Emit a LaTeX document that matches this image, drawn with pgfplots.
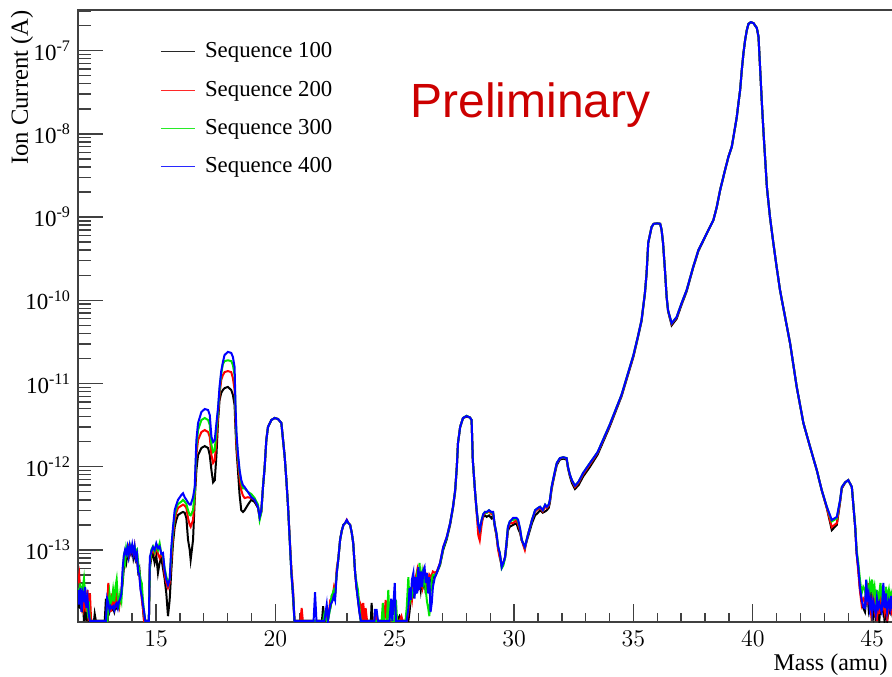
\documentclass[border=0pt]{standalone}
\usepackage{fontspec}
\setmainfont{Liberation Serif}
\newfontfamily\prelimfont{Liberation Sans}
\usepackage{pgfplots}
\usepackage{pgfplotstable}
\pgfplotsset{compat=1.18}
\definecolor{prelimred}{RGB}{204,0,0}
\definecolor{rootgreen}{RGB}{0,230,0}
\definecolor{rootred}{RGB}{255,0,0}
\definecolor{rootblue}{RGB}{0,0,255}
\definecolor{legred}{RGB}{255,40,40}
\definecolor{leggreen}{RGB}{40,235,40}
\definecolor{legblue}{RGB}{40,40,255}
\definecolor{legblack}{RGB}{40,40,40}

% mass (amu), ion current (A) for sequences 100, 200, 300, 400
\pgfplotstableread{
m k r g b
11.73 3.0e-14 4.0e-14 3.5e-14 3.3e-14
11.78 2.0e-14 5.0e-14 2.5e-14 2.2e-14
11.83 3.5e-14 3.0e-14 4.0e-14 3.5e-14
11.88 1.8e-14 2.2e-14 2.0e-14 1.8e-14
11.93 2.5e-14 3.0e-14 3.5e-14 3.0e-14
11.98 1.4e-14 2.0e-14 4.5e-14 2.6e-14
12.03 3.3e-14 2.4e-14 3.0e-14 3.6e-14
12.08 1.4e-14 1.8e-14 2.2e-14 2.0e-14
12.13 2.0e-14 3.3e-14 1.8e-14 2.6e-14
12.18 1.4e-14 1.4e-14 2.4e-14 1.7e-14
12.23 1.4e-14 3.0e-14 1.4e-14 1.4e-14
12.28 1.4e-14 1.4e-14 1.4e-14 1.4e-14
12.40 1.4e-14 1.4e-14 1.4e-14 1.4e-14
12.43 1.7e-14 1.4e-14 1.4e-14 1.4e-14
12.48 1.4e-14 1.4e-14 1.4e-14 1.4e-14
12.85 1.4e-14 1.4e-14 1.4e-14 1.4e-14
12.90 2.6e-14 1.4e-14 1.4e-14 1.4e-14
12.95 1.6e-14 2.0e-14 1.4e-14 2.6e-14
13.00 2.2e-14 4.0e-14 2.0e-14 2.3e-14
13.05 1.8e-14 2.5e-14 3.0e-14 1.9e-14
13.10 2.0e-14 1.8e-14 2.3e-14 2.1e-14
13.15 1.9e-14 3.0e-14 2.5e-14 2.0e-14
13.20 2.0e-14 2.2e-14 3.3e-14 2.1e-14
13.25 1.8e-14 2.6e-14 2.4e-14 1.9e-14
13.30 2.1e-14 2.0e-14 3.6e-14 2.2e-14
13.35 2.0e-14 3.3e-14 4.4e-14 2.3e-14
13.40 2.5e-14 2.2e-14 2.6e-14 2.0e-14
13.45 2.2e-14 2.0e-14 2.2e-14 2.4e-14
13.50 2.4e-14 2.6e-14 3.0e-14 2.6e-14
13.55 3.0e-14 3.3e-14 2.5e-14 3.0e-14
13.60 4.0e-14 5.0e-14 4.4e-14 6.0e-14
13.65 6.0e-14 7.0e-14 8.0e-14 8.5e-14
13.70 8.0e-14 9.0e-14 7.0e-14 1.0e-13
13.75 7.0e-14 8.5e-14 1.05e-13 9.0e-14
13.80 9.0e-14 1.0e-13 9.0e-14 1.08e-13
13.85 8.0e-14 1.1e-13 1.0e-13 8.5e-14
13.90 1.0e-13 9.0e-14 1.15e-13 1.12e-13
13.95 9.0e-14 1.05e-13 1.0e-13 9.5e-14
14.00 1.05e-13 1.0e-13 1.12e-13 1.15e-13
14.05 8.0e-14 9.0e-14 1.0e-13 9.0e-14
14.10 9.5e-14 1.1e-13 1.1e-13 1.1e-13
14.15 7.5e-14 8.0e-14 9.5e-14 8.0e-14
14.20 8.0e-14 9.0e-14 1.0e-13 9.0e-14
14.25 5.5e-14 6.0e-14 7.0e-14 5.5e-14
14.30 6.0e-14 5.0e-14 5.5e-14 5.0e-14
14.35 4.0e-14 3.6e-14 4.4e-14 3.3e-14
14.40 3.0e-14 2.6e-14 4.0e-14 2.8e-14
14.45 2.0e-14 2.0e-14 2.5e-14 2.2e-14
14.50 1.4e-14 1.4e-14 1.8e-14 1.8e-14
14.55 1.4e-14 1.4e-14 1.4e-14 1.4e-14
14.70 1.4e-14 1.4e-14 1.4e-14 1.4e-14
14.74 6.0e-14 7.0e-14 6.5e-14 8.2e-14
14.80 8.0e-14 9.0e-14 1.0e-13 9.5e-14
14.87 9.0e-14 1.0e-13 1.1e-13 1.08e-13
14.94 7.0e-14 9.0e-14 9.5e-14 1.0e-13
15.01 8.5e-14 1.1e-13 1.15e-13 1.2e-13
15.08 5.3e-14 9.0e-14 1.0e-13 1.05e-13
15.15 7.0e-14 8.0e-14 1.2e-13 1.1e-13
15.22 8.0e-14 9.0e-14 9.0e-14 9.0e-14
15.29 6.0e-14 8.0e-14 8.5e-14 9.2e-14
15.36 4.5e-14 5.0e-14 6.0e-14 5.7e-14
15.43 3.0e-14 4.0e-14 4.8e-14 4.4e-14
15.50 1.6e-14 3.5e-14 4.0e-14 3.8e-14
15.57 2.5e-14 4.0e-14 4.4e-14 4.4e-14
15.64 5.7e-14 7.6e-14 9.2e-14 1.08e-13
15.71 1.2e-13 1.5e-13 1.7e-13 1.88e-13
15.78 1.88e-13 2.29e-13 2.63e-13 3.0e-13
15.85 2.3e-13 2.8e-13 3.2e-13 3.5e-13
15.92 2.63e-13 3.2e-13 3.56e-13 4.0e-13
16.06 2.8e-13 3.4e-13 3.8e-13 4.57e-13
16.13 2.86e-13 3.5e-13 4.0e-13 4.8e-13
16.20 2.8e-13 3.4e-13 3.8e-13 4.3e-13
16.27 2.42e-13 3.2e-13 3.56e-13 4.0e-13
16.34 1.32e-13 2.4e-13 3.0e-13 3.7e-13
16.41 1.0e-13 2.0e-13 2.63e-13 3.5e-13
16.45 7.6e-14 1.9e-13 2.6e-13 3.5e-13
16.55 1.32e-13 2.29e-13 3.0e-13 4.3e-13
16.62 4.0e-13 4.57e-13 4.97e-13 5.7e-13
16.69 9.1e-13 1.38e-12 1.73e-12 2.1e-12
16.76 1.38e-12 2.1e-12 2.76e-12 3.35e-12
16.90 1.68e-12 2.61e-12 3.64e-12 4.55e-12
17.04 1.77e-12 2.76e-12 3.85e-12 4.94e-12
17.18 1.68e-12 2.61e-12 3.64e-12 4.8e-12
17.25 1.38e-12 2.28e-12 3.17e-12 4.18e-12
17.32 9.1e-13 1.38e-12 1.82e-12 2.28e-12
17.39 6.5e-13 1.11e-12 1.5e-12 1.98e-12
17.46 6.9e-13 1.2e-12 1.59e-12 2.1e-12
17.53 1.38e-12 2.1e-12 2.76e-12 3.35e-12
17.60 3.64e-12 4.18e-12 4.8e-12 5.2e-12
17.66 6.3e-12 7.3e-12 8.35e-12 9.1e-12
17.73 7.7e-12 1.1e-11 1.3e-11 1.4e-11
17.80 8.35e-12 1.26e-11 1.71e-11 1.81e-11
17.87 8.8e-12 1.37e-11 1.86e-11 2.2e-11
18.01 9.1e-12 1.41e-11 1.9e-11 2.4e-11
18.15 8.35e-12 1.37e-11 1.86e-11 2.33e-11
18.22 7.3e-12 1.16e-11 1.67e-11 2.08e-11
18.29 5.5e-12 8.35e-12 1.26e-11 1.58e-11
18.33 2.76e-12 3.64e-12 4.55e-12 5.2e-12
18.37 1.59e-12 1.82e-12 2.21e-12 2.54e-12
18.43 9.1e-13 1.14e-12 1.35e-12 1.46e-12
18.50 4.57e-13 7.3e-13 8.6e-13 9.1e-13
18.57 3.0e-13 5.2e-13 6.5e-13 6.9e-13
18.64 2.86e-13 4.5e-13 5.5e-13 6.0e-13
18.71 3.0e-13 4.2e-13 5.5e-13 5.7e-13
18.85 3.5e-13 4.3e-13 4.97e-13 4.97e-13
18.99 4.0e-13 4.2e-13 4.7e-13 4.3e-13
19.13 3.77e-13 4.0e-13 4.2e-13 4.0e-13
19.27 3.2e-13 3.3e-13 3.5e-13 3.3e-13
19.34 2.49e-13 2.42e-13 2.3e-13 2.49e-13
19.41 2.9e-13 2.9e-13 2.8e-13 3.0e-13
19.48 5.7e-13 5.7e-13 5.7e-13 5.7e-13
19.55 9.9e-13 9.9e-13 9.9e-13 9.9e-13
19.62 2.1e-12 2.1e-12 2.1e-12 2.1e-12
19.69 3.0e-12 3.0e-12 3.0e-12 3.0e-12
19.83 3.64e-12 3.64e-12 3.64e-12 3.64e-12
19.97 3.85e-12 3.85e-12 3.85e-12 3.85e-12
20.11 3.74e-12 3.74e-12 3.74e-12 3.74e-12
20.25 3.35e-12 3.35e-12 3.35e-12 3.35e-12
20.32 2.1e-12 2.1e-12 2.1e-12 2.1e-12
20.39 1.31e-12 1.31e-12 1.31e-12 1.31e-12
20.46 6.9e-13 6.9e-13 6.9e-13 6.9e-13
20.53 3.3e-13 3.3e-13 3.3e-13 3.3e-13
20.60 1.32e-13 1.4e-13 1.32e-13 1.32e-13
20.67 5.3e-14 6.0e-14 5.3e-14 5.3e-14
20.74 2.6e-14 3.3e-14 3.0e-14 3.0e-14
20.80 1.4e-14 1.4e-14 1.4e-14 1.4e-14
21.05 1.4e-14 1.4e-14 1.4e-14 1.4e-14
21.10 1.4e-14 2.0e-14 1.4e-14 1.4e-14
21.15 1.4e-14 1.4e-14 1.4e-14 1.4e-14
21.60 1.4e-14 1.4e-14 1.4e-14 1.4e-14
21.66 1.4e-14 1.4e-14 1.4e-14 3.1e-14
21.72 1.4e-14 1.4e-14 1.4e-14 1.4e-14
21.95 1.4e-14 1.4e-14 1.4e-14 1.4e-14
22.00 2.1e-14 1.4e-14 1.4e-14 1.4e-14
22.05 1.4e-14 1.4e-14 1.7e-14 1.4e-14
22.15 1.4e-14 1.8e-14 1.4e-14 2.2e-14
22.20 1.8e-14 1.4e-14 1.4e-14 1.4e-14
22.30 2.0e-14 2.5e-14 2.0e-14 2.2e-14
22.35 2.4e-14 2.6e-14 2.8e-14 2.3e-14
22.40 2.5e-14 2.8e-14 3.0e-14 2.5e-14
22.45 3.0e-14 3.5e-14 3.3e-14 2.8e-14
22.50 2.8e-14 3.0e-14 3.1e-14 2.5e-14
22.57 5.3e-14 6.0e-14 5.3e-14 5.3e-14
22.64 8.0e-14 8.0e-14 8.0e-14 8.0e-14
22.71 1.32e-13 1.32e-13 1.32e-13 1.32e-13
22.78 1.7e-13 1.7e-13 1.7e-13 1.7e-13
22.85 2.0e-13 2.0e-13 2.0e-13 2.0e-13
22.92 2.1e-13 2.1e-13 2.1e-13 2.1e-13
22.99 2.2e-13 2.3e-13 2.2e-13 2.29e-13
23.06 2.1e-13 2.1e-13 2.1e-13 2.1e-13
23.13 2.0e-13 2.0e-13 2.0e-13 2.0e-13
23.20 1.6e-13 1.6e-13 1.6e-13 1.6e-13
23.26 1.21e-13 1.21e-13 1.21e-13 1.21e-13
23.34 5.3e-14 5.3e-14 5.3e-14 5.3e-14
23.40 3.5e-14 3.5e-14 4.0e-14 3.5e-14
23.46 2.5e-14 2.8e-14 3.3e-14 2.5e-14
23.52 1.8e-14 2.4e-14 2.0e-14 1.8e-14
23.58 1.4e-14 2.2e-14 1.4e-14 1.4e-14
23.64 1.4e-14 1.4e-14 1.4e-14 1.4e-14
23.68 1.4e-14 2.3e-14 1.4e-14 1.4e-14
23.74 1.4e-14 1.4e-14 1.4e-14 1.4e-14
23.78 1.4e-14 2.0e-14 1.4e-14 1.4e-14
23.84 1.4e-14 1.4e-14 1.4e-14 1.4e-14
24.00 1.4e-14 1.4e-14 1.4e-14 1.4e-14
24.03 2.3e-14 1.4e-14 1.4e-14 1.4e-14
24.08 1.4e-14 1.4e-14 1.4e-14 1.4e-14
24.15 1.4e-14 1.4e-14 1.4e-14 1.4e-14
24.18 1.4e-14 1.9e-14 1.4e-14 1.9e-14
24.24 1.4e-14 1.4e-14 1.4e-14 1.9e-14
24.30 1.4e-14 1.4e-14 1.4e-14 1.4e-14
24.45 1.4e-14 1.4e-14 1.4e-14 1.4e-14
24.50 1.4e-14 1.4e-14 2.3e-14 1.4e-14
24.55 1.4e-14 1.4e-14 1.4e-14 1.4e-14
24.62 1.4e-14 2.5e-14 1.4e-14 1.4e-14
24.67 1.4e-14 1.4e-14 1.4e-14 1.4e-14
24.73 1.4e-14 1.4e-14 3.3e-14 1.4e-14
24.78 1.4e-14 1.4e-14 1.4e-14 1.4e-14
24.85 1.4e-14 1.4e-14 2.2e-14 2.6e-14
24.90 1.4e-14 1.4e-14 1.4e-14 1.4e-14
25.00 1.4e-14 1.4e-14 1.4e-14 4.0e-14
25.05 1.4e-14 1.4e-14 2.5e-14 1.4e-14
25.10 1.4e-14 1.4e-14 1.4e-14 1.4e-14
25.20 1.6e-14 1.4e-14 1.4e-14 1.4e-14
25.28 1.4e-14 1.6e-14 1.4e-14 1.4e-14
25.33 1.4e-14 1.4e-14 1.4e-14 1.4e-14
25.45 1.4e-14 1.4e-14 1.4e-14 1.4e-14
25.50 1.4e-14 1.4e-14 2.0e-14 1.4e-14
25.57 1.4e-14 1.8e-14 4.7e-14 2.0e-14
25.62 1.8e-14 2.5e-14 2.2e-14 3.5e-14
25.67 2.6e-14 3.0e-14 3.6e-14 2.5e-14
25.72 3.0e-14 2.5e-14 2.8e-14 4.4e-14
25.78 2.8e-14 4.0e-14 3.3e-14 5.3e-14
25.83 3.6e-14 3.0e-14 4.4e-14 2.6e-14
25.88 3.3e-14 4.7e-14 3.0e-14 4.7e-14
25.94 4.0e-14 5.7e-14 5.0e-14 3.0e-14
25.99 3.6e-14 4.0e-14 4.4e-14 6.2e-14
26.04 4.4e-14 5.0e-14 7.0e-14 3.3e-14
26.09 3.3e-14 4.4e-14 3.6e-14 5.5e-14
26.15 4.7e-14 3.6e-14 5.3e-14 3.6e-14
26.20 3.8e-14 5.3e-14 4.0e-14 5.7e-14
26.25 4.4e-14 4.4e-14 4.7e-14 6.2e-14
26.30 3.0e-14 3.8e-14 3.3e-14 4.0e-14
26.35 4.0e-14 4.7e-14 2.4e-14 5.3e-14
26.40 3.6e-14 4.0e-14 2.0e-14 3.0e-14
26.45 4.7e-14 5.0e-14 1.6e-14 4.7e-14
26.50 4.4e-14 4.7e-14 3.0e-14 1.8e-14
26.55 4.0e-14 5.0e-14 4.4e-14 2.3e-14
26.60 4.7e-14 5.5e-14 5.0e-14 3.6e-14
26.68 4.7e-14 5.3e-14 5.0e-14 4.7e-14
26.76 5.3e-14 5.5e-14 5.3e-14 5.3e-14
26.90 6.6e-14 7.0e-14 6.8e-14 7.0e-14
27.03 1.0e-13 1.08e-13 1.05e-13 1.08e-13
27.18 1.35e-13 1.43e-13 1.4e-13 1.43e-13
27.32 2.0e-13 2.1e-13 2.1e-13 2.1e-13
27.44 3.2e-13 3.3e-13 3.3e-13 3.3e-13
27.53 5.0e-13 5.2e-13 5.2e-13 5.2e-13
27.60 9.9e-13 9.9e-13 9.9e-13 9.9e-13
27.65 1.93e-12 1.93e-12 1.93e-12 1.93e-12
27.74 3.0e-12 3.0e-12 3.0e-12 3.0e-12
27.86 3.85e-12 3.85e-12 3.85e-12 3.85e-12
28.01 4.0e-12 4.07e-12 4.1e-12 4.07e-12
28.15 3.9e-12 3.9e-12 3.9e-12 3.9e-12
28.22 3.64e-12 3.64e-12 3.64e-12 3.64e-12
28.27 1.2e-12 1.2e-12 1.2e-12 1.2e-12
28.36 5.2e-13 5.2e-13 5.2e-13 5.2e-13
28.43 3.0e-13 2.8e-13 3.0e-13 3.0e-13
28.50 2.0e-13 1.5e-13 2.0e-13 2.0e-13
28.56 1.73e-13 1.3e-13 1.73e-13 1.73e-13
28.64 2.2e-13 2.0e-13 2.29e-13 2.29e-13
28.71 2.5e-13 2.6e-13 2.7e-13 2.7e-13
28.78 2.6e-13 2.8e-13 2.86e-13 2.86e-13
28.85 2.5e-13 2.8e-13 2.8e-13 2.86e-13
28.95 2.6e-13 2.9e-13 3.0e-13 3.0e-13
29.05 2.4e-13 2.7e-13 2.8e-13 2.86e-13
29.12 2.6e-13 2.8e-13 2.8e-13 2.86e-13
29.19 1.9e-13 2.0e-13 2.0e-13 2.0e-13
29.26 1.5e-13 1.5e-13 1.6e-13 1.6e-13
29.33 1.05e-13 1.0e-13 1.1e-13 1.1e-13
29.40 9.0e-14 8.0e-14 9.2e-14 9.2e-14
29.48 6.5e-14 6.5e-14 6.0e-14 6.2e-14
29.55 7.0e-14 7.0e-14 6.5e-14 7.0e-14
29.62 8.0e-14 8.2e-14 8.0e-14 8.2e-14
29.68 1.1e-13 1.2e-13 1.2e-13 1.2e-13
29.74 1.7e-13 1.8e-13 1.88e-13 1.88e-13
29.82 1.9e-13 2.1e-13 2.2e-13 2.2e-13
29.96 2.0e-13 2.1e-13 2.3e-13 2.42e-13
30.10 2.1e-13 2.3e-13 2.4e-13 2.42e-13
30.17 1.8e-13 2.0e-13 2.2e-13 2.3e-13
30.25 1.6e-13 1.7e-13 1.8e-13 1.8e-13
30.32 1.3e-13 1.3e-13 1.32e-13 1.32e-13
30.38 1.2e-13 1.15e-13 1.2e-13 1.2e-13
30.45 1.05e-13 1.0e-13 1.08e-13 1.08e-13
30.52 1.25e-13 1.3e-13 1.3e-13 1.3e-13
30.60 1.5e-13 1.6e-13 1.6e-13 1.6e-13
30.67 1.75e-13 1.88e-13 1.88e-13 1.88e-13
30.75 2.1e-13 2.3e-13 2.3e-13 2.3e-13
30.88 2.6e-13 2.9e-13 3.0e-13 3.0e-13
31.00 2.8e-13 3.1e-13 3.2e-13 3.2e-13
31.09 3.0e-13 3.2e-13 3.3e-13 3.3e-13
31.20 2.8e-13 2.9e-13 3.0e-13 3.0e-13
31.30 2.9e-13 3.3e-13 3.5e-13 3.5e-13
31.37 3.0e-13 3.2e-13 3.3e-13 3.3e-13
31.45 3.2e-13 3.4e-13 3.5e-13 3.5e-13
31.50 3.7e-13 3.9e-13 4.0e-13 4.0e-13
31.57 5.3e-13 5.5e-13 5.7e-13 5.7e-13
31.63 6.5e-13 6.8e-13 6.9e-13 6.9e-13
31.72 8.6e-13 9.0e-13 9.1e-13 9.1e-13
31.79 1.05e-12 1.1e-12 1.11e-12 1.11e-12
31.92 1.22e-12 1.25e-12 1.27e-12 1.27e-12
32.06 1.25e-12 1.3e-12 1.3e-12 1.3e-12
32.20 1.22e-12 1.25e-12 1.27e-12 1.27e-12
32.26 9.5e-13 9.8e-13 9.9e-13 9.9e-13
32.34 7.6e-13 7.9e-13 8.0e-13 8.0e-13
32.42 6.4e-13 6.8e-13 6.9e-13 6.9e-13
32.55 5.4e-13 5.7e-13 5.9e-13 5.9e-13
32.70 6.0e-13 6.4e-13 6.6e-13 6.6e-13
32.89 7.6e-13 8.1e-13 8.4e-13 8.4e-13
33.18 1.0e-12 1.07e-12 1.11e-12 1.11e-12
33.50 1.4e-12 1.47e-12 1.5e-12 1.5e-12
34.00 3.0e-12 3.1e-12 3.17e-12 3.17e-12
34.50 7.0e-12 7.2e-12 7.3e-12 7.3e-12
35.00 2.1e-11 2.15e-11 2.2e-11 2.2e-11
35.18 3.5e-11 3.6e-11 3.6e-11 3.6e-11
35.34 5.6e-11 5.8e-11 5.8e-11 5.8e-11
35.48 1.2e-10 1.22e-10 1.22e-10 1.22e-10
35.55 2.1e-10 2.1e-10 2.1e-10 2.1e-10
35.62 4.9e-10 4.9e-10 4.9e-10 4.9e-10
35.76 7.6e-10 7.6e-10 7.6e-10 7.6e-10
35.85 8.3e-10 8.3e-10 8.3e-10 8.3e-10
36.00 8.4e-10 8.4e-10 8.4e-10 8.4e-10
36.12 8.3e-10 8.3e-10 8.3e-10 8.3e-10
36.18 7.0e-10 7.0e-10 7.0e-10 7.0e-10
36.24 4.9e-10 4.9e-10 4.9e-10 4.9e-10
36.32 2.3e-10 2.3e-10 2.3e-10 2.3e-10
36.39 1.1e-10 1.1e-10 1.1e-10 1.1e-10
36.45 7.4e-11 7.6e-11 7.6e-11 7.6e-11
36.60 5.0e-11 5.2e-11 5.3e-11 5.3e-11
36.81 6.0e-11 6.2e-11 6.3e-11 6.3e-11
37.02 8.9e-11 9.2e-11 9.3e-11 9.3e-11
37.23 1.28e-10 1.32e-10 1.33e-10 1.33e-10
37.50 2.45e-10 2.5e-10 2.5e-10 2.5e-10
37.72 3.9e-10 4.0e-10 4.0e-10 4.0e-10
37.93 5.2e-10 5.3e-10 5.3e-10 5.3e-10
38.14 7.0e-10 7.0e-10 7.0e-10 7.0e-10
38.35 9.2e-10 9.2e-10 9.2e-10 9.2e-10
38.49 1.32e-9 1.32e-9 1.32e-9 1.32e-9
38.63 2.1e-9 2.1e-9 2.1e-9 2.1e-9
38.84 3.7e-9 3.7e-9 3.7e-9 3.7e-9
38.98 5.3e-9 5.3e-9 5.3e-9 5.3e-9
39.12 7.0e-9 7.0e-9 7.0e-9 7.0e-9
39.19 9.2e-9 9.2e-9 9.2e-9 9.2e-9
39.33 1.6e-8 1.6e-8 1.6e-8 1.6e-8
39.40 2.35e-8 2.35e-8 2.35e-8 2.35e-8
39.47 3.37e-8 3.37e-8 3.37e-8 3.37e-8
39.54 5.9e-8 5.9e-8 5.9e-8 5.9e-8
39.61 9.4e-8 9.4e-8 9.4e-8 9.4e-8
39.68 1.35e-7 1.35e-7 1.35e-7 1.35e-7
39.75 1.77e-7 1.77e-7 1.77e-7 1.77e-7
39.82 2.1e-7 2.1e-7 2.1e-7 2.1e-7
39.92 2.2e-7 2.2e-7 2.2e-7 2.2e-7
40.03 2.14e-7 2.14e-7 2.14e-7 2.14e-7
40.17 1.87e-7 1.87e-7 1.87e-7 1.87e-7
40.24 1.46e-7 1.46e-7 1.46e-7 1.46e-7
40.31 5.9e-8 5.9e-8 5.9e-8 5.9e-8
40.38 2.35e-8 2.35e-8 2.35e-8 2.35e-8
40.45 1.03e-8 1.03e-8 1.03e-8 1.03e-8
40.52 4.9e-9 4.9e-9 4.9e-9 4.9e-9
40.59 2.3e-9 2.3e-9 2.3e-9 2.3e-9
40.72 1.0e-9 1.0e-9 1.0e-9 1.0e-9
40.86 4.9e-10 4.9e-10 4.9e-10 4.9e-10
41.00 2.5e-10 2.5e-10 2.5e-10 2.5e-10
41.14 1.33e-10 1.33e-10 1.33e-10 1.33e-10
41.22 1.0e-10 1.0e-10 1.0e-10 1.0e-10
41.56 3.07e-11 3.07e-11 3.07e-11 3.07e-11
41.84 9.1e-12 9.1e-12 9.1e-12 9.1e-12
42.12 3.35e-12 3.35e-12 3.35e-12 3.35e-12
42.40 1.73e-12 1.73e-12 1.73e-12 1.73e-12
42.68 9.1e-13 9.1e-13 9.1e-13 9.1e-13
42.89 5.2e-13 5.2e-13 5.2e-13 5.2e-13
43.10 3.2e-13 3.2e-13 3.3e-13 3.3e-13
43.31 1.73e-13 1.88e-13 2.2e-13 2.29e-13
43.52 2.0e-13 2.1e-13 2.4e-13 2.49e-13
43.66 3.8e-13 3.9e-13 4.0e-13 4.0e-13
43.73 5.5e-13 5.6e-13 5.7e-13 5.7e-13
43.87 6.4e-13 6.5e-13 6.5e-13 6.5e-13
44.00 6.9e-13 6.9e-13 6.9e-13 6.9e-13
44.15 5.7e-13 5.7e-13 5.7e-13 5.7e-13
44.29 1.88e-13 1.88e-13 1.95e-13 1.88e-13
44.35 9.2e-14 9.2e-14 1.0e-13 9.2e-14
44.42 6.0e-14 5.5e-14 7.0e-14 6.2e-14
44.49 3.4e-14 3.2e-14 4.4e-14 3.6e-14
44.56 2.5e-14 2.2e-14 3.0e-14 2.5e-14
44.63 2.0e-14 2.6e-14 3.6e-14 2.06e-14
44.70 1.8e-14 2.4e-14 3.3e-14 2.0e-14
44.75 2.5e-14 3.0e-14 2.4e-14 4.4e-14
44.80 3.0e-14 2.2e-14 3.6e-14 2.6e-14
44.85 2.0e-14 4.0e-14 3.0e-14 3.0e-14
44.90 2.6e-14 2.6e-14 4.0e-14 2.0e-14
44.95 3.3e-14 1.8e-14 3.3e-14 2.5e-14
45.00 2.2e-14 2.4e-14 4.4e-14 1.8e-14
45.05 1.7e-14 3.0e-14 3.0e-14 2.4e-14
45.10 2.4e-14 2.0e-14 3.6e-14 2.0e-14
45.15 1.4e-14 2.6e-14 2.5e-14 1.7e-14
45.20 2.0e-14 1.4e-14 3.3e-14 2.6e-14
45.25 1.8e-14 2.2e-14 2.2e-14 2.0e-14
45.30 1.4e-14 1.7e-14 3.0e-14 2.3e-14
45.35 2.2e-14 3.0e-14 4.0e-14 2.0e-14
45.40 1.8e-14 2.0e-14 2.6e-14 1.8e-14
45.47 2.0e-14 2.2e-14 3.0e-14 4.0e-14
45.52 1.4e-14 1.8e-14 2.4e-14 2.0e-14
45.58 1.8e-14 2.5e-14 3.6e-14 3.0e-14
45.63 1.4e-14 1.4e-14 2.6e-14 1.8e-14
45.70 2.0e-14 2.4e-14 3.3e-14 2.4e-14
45.75 1.8e-14 2.0e-14 2.4e-14 2.0e-14
45.80 2.2e-14 1.8e-14 3.0e-14 2.8e-14
45.85 1.7e-14 2.2e-14 2.6e-14 2.0e-14
45.95 2.0e-14 2.0e-14 2.8e-14 2.2e-14
}\spectra

\begin{document}
\begin{tikzpicture}
\useasboundingbox (0,0) rectangle (446pt,338pt);
\begin{axis}[
    at={(39pt,27pt)}, anchor=south west,
    scale only axis,
    width=408.4pt, height=306pt,
    xmin=11.73, xmax=45.95,
    ymode=log,
    ymin=1.36e-14, ymax=3.08e-7,
    xtick={15,20,25,30,35,40,45},
    minor xtick={12,13,...,46},
    ytick={1e-13,1e-12,1e-11,1e-10,1e-9,1e-8,1e-7},
    yticklabels={10\textsuperscript{-13},10\textsuperscript{-12},10\textsuperscript{-11},10\textsuperscript{-10},10\textsuperscript{-9},10\textsuperscript{-8},10\textsuperscript{-7}},
    minor ytick={2e-14,3e-14,4e-14,5e-14,6e-14,7e-14,8e-14,9e-14,
                 2e-13,3e-13,4e-13,5e-13,6e-13,7e-13,8e-13,9e-13,
                 2e-12,3e-12,4e-12,5e-12,6e-12,7e-12,8e-12,9e-12,
                 2e-11,3e-11,4e-11,5e-11,6e-11,7e-11,8e-11,9e-11,
                 2e-10,3e-10,4e-10,5e-10,6e-10,7e-10,8e-10,9e-10,
                 2e-9,3e-9,4e-9,5e-9,6e-9,7e-9,8e-9,9e-9,
                 2e-8,3e-8,4e-8,5e-8,6e-8,7e-8,8e-8,9e-8,
                 2e-7,3e-7},
    xtick pos=bottom, ytick pos=left,
    tick align=inside,
    major tick length=12.5pt, minor tick length=6.5pt,
    every x tick/.append style={/pgfplots/major tick length=9pt, /pgfplots/minor tick length=4.5pt},
    tick style={black!75, line width=0.7pt},
    axis line style={black!75, line width=0.9pt},
    tick label style={font=\fontsize{11.5}{13}\selectfont},
    xticklabel style={yshift=-1pt},
    xlabel={Mass (amu)},
    xlabel style={at={(axis description cs:1,0)}, anchor=north east, inner sep=0pt,
                  xshift=-3.4pt, yshift=-15.5pt, font=\fontsize{12}{14}\selectfont},
    ylabel={Ion Current (A)},
    ylabel style={at={(axis description cs:-0.0686,1)}, anchor=east, inner sep=0pt,
                  font=\fontsize{12.3}{14}\selectfont},
    legend style={draw=none, fill=none, at={(axis description cs:0.1003,0.9536)},
                  anchor=north west, inner sep=0pt, row sep=6.05pt, column sep=2.7pt,
                  font=\fontsize{11.4}{13}\selectfont},
    legend cell align=left,
]
\addplot[color=black, line width=1pt, forget plot] table[x=m, y=k] {\spectra};
\addplot[color=rootred, line width=1pt, forget plot] table[x=m, y=r] {\spectra};
\addplot[color=rootgreen, line width=1pt, forget plot] table[x=m, y=g] {\spectra};
\addplot[color=rootblue, line width=1pt, forget plot] table[x=m, y=b] {\spectra};
\addlegendimage{color=legblack, line width=0.6pt}
\addlegendentry{Sequence 100}
\addlegendimage{color=legred, line width=0.6pt}
\addlegendentry{Sequence 200}
\addlegendimage{color=leggreen, line width=0.6pt}
\addlegendentry{Sequence 300}
\addlegendimage{color=legblue, line width=0.6pt}
\addlegendentry{Sequence 400}
\end{axis}
\node[anchor=base west, inner sep=0pt, text=prelimred,
      font=\prelimfont\fontsize{24}{28}\selectfont] at (205pt,279pt) {Preliminary};
\end{tikzpicture}
\end{document}
